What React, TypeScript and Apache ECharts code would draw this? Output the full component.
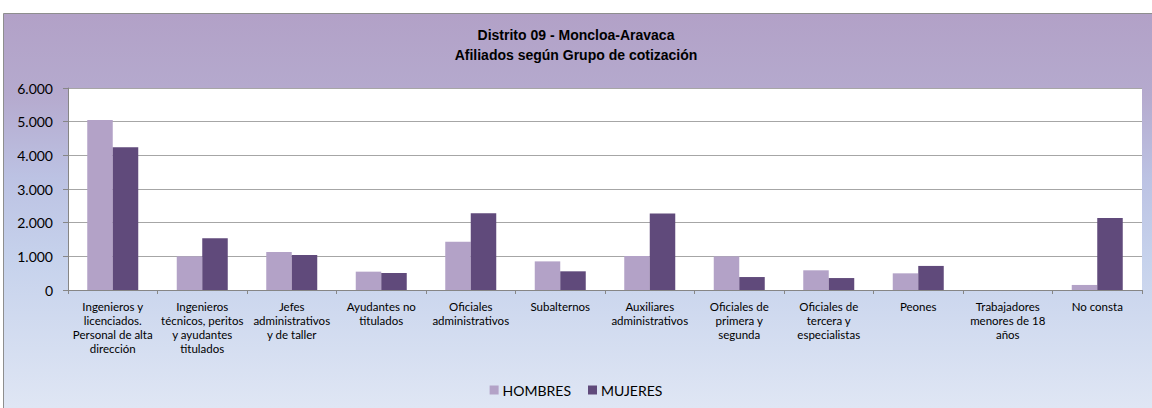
import React, { useEffect, useRef } from "react";
import * as echarts from "echarts";

const categories: string[] = [
  "Ingenieros y\nlicenciados.\nPersonal de alta\ndirección",
  "Ingenieros\ntécnicos, peritos\ny ayudantes\ntitulados",
  "Jefes\nadministrativos\ny de taller",
  "Ayudantes no\ntitulados",
  "Oficiales\nadministrativos",
  "Subalternos",
  "Auxiliares\nadministrativos",
  "Oficiales de\nprimera y\nsegunda",
  "Oficiales de\ntercera y\nespecialistas",
  "Peones",
  "Trabajadores\nmenores de 18\naños",
  "No consta",
];

const hombres: number[] = [5050, 1000, 1130, 545, 1435, 850, 1010, 1000, 585, 495, 0, 150];
const mujeres: number[] = [4240, 1535, 1040, 505, 2280, 555, 2275, 385, 355, 715, 0, 2140];

const titleLines: string[] = ["Distrito 09 - Moncloa-Aravaca", "Afiliados según Grupo de cotización"];
const seriesNames: string[] = ["HOMBRES", "MUJERES"];

const FONT = "Lato, 'Liberation Sans', sans-serif";

function fmt(v: number): string {
  return String(v).replace(/\B(?=(\d{3})+(?!\d))/g, ".");
}

export default function App() {
  const ref = useRef<HTMLDivElement>(null);
  useEffect(() => {
    if (!ref.current) return;
    const chart = echarts.init(ref.current, undefined, { renderer: "svg" });
    chart.setOption({
      animation: false,
      backgroundColor: "#ffffff",
      graphic: [
        {
          type: "rect",
          z: -10,
          silent: true,
          shape: { x: 3.5, y: 13.5, width: 1160, height: 410 },
          style: {
            fill: new echarts.graphic.LinearGradient(0, 0, 0, 1, [
              { offset: 0, color: "#B2A1C7" },
              { offset: 0.2, color: "#B5AACE" },
              { offset: 0.4, color: "#BCC2E3" },
              { offset: 0.6, color: "#C6D2EC" },
              { offset: 0.96, color: "#DFE6F4" },
              { offset: 1, color: "#E0E7F4" },
            ]),
            stroke: "#8E8E8E",
            lineWidth: 1,
          },
        },
      ],
      title: {
        text: titleLines.join("\n"),
        left: "center",
        top: 20,
        textStyle: {
          fontFamily: "'Liberation Sans', Arial, sans-serif",
          fontWeight: "bold",
          fontSize: 14,
          lineHeight: 20,
          color: "#000000",
        },
      },
      legend: {
        data: seriesNames,
        bottom: 6,
        left: "center",
        icon: "rect",
        itemWidth: 9,
        itemHeight: 9,
        itemGap: 17,
        textStyle: { fontFamily: FONT, fontSize: 14, color: "#000000", padding: [0, 0, 0, -1] },
      },
      grid: { left: 68, right: 10, top: 88, bottom: 118, show: true, backgroundColor: "#ffffff", borderWidth: 0 },
      xAxis: {
        type: "category",
        data: categories,
        axisLine: { lineStyle: { color: "#868686", width: 1 } },
        axisTick: { show: true, length: 4, lineStyle: { color: "#868686" } },
        axisLabel: {
          interval: 0,
          margin: 9,
          fontFamily: FONT,
          fontSize: 11.5,
          lineHeight: 14,
          color: "#000000",
        },
      },
      yAxis: {
        type: "value",
        min: 0,
        max: 6000,
        interval: 1000,
        axisLine: { show: true, lineStyle: { color: "#868686", width: 1 } },
        axisTick: { show: true, length: 5, lineStyle: { color: "#868686" } },
        splitLine: { lineStyle: { color: "#A6A6A6", width: 1 } },
        axisLabel: {
          fontFamily: FONT,
          fontSize: 14,
          color: "#000000",
          margin: 15,
          formatter: (v: number) => fmt(v),
        },
      },
      series: [
        {
          name: seriesNames[0],
          type: "bar",
          data: hombres,
          barWidth: 25.5,
          barGap: "0%",
          itemStyle: { color: "#B3A2C7" },
        },
        {
          name: seriesNames[1],
          type: "bar",
          data: mujeres,
          barWidth: 25.5,
          barGap: "0%",
          itemStyle: { color: "#604A7B" },
        },
      ],
    });
    return () => chart.dispose();
  }, []);
  return (
    <div
      ref={ref}
      style={{ position: "fixed", left: 0, top: 0, width: 1152, height: 408 }}
    />
  );
}
